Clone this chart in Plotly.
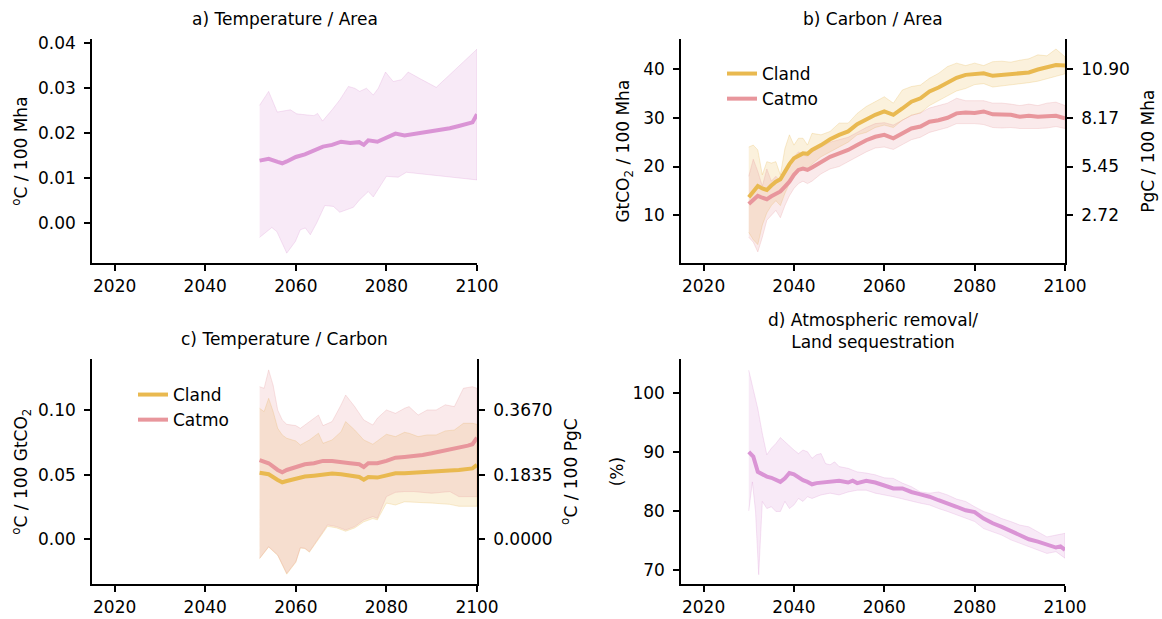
import plotly.graph_objects as go

W, H = 1162, 619

# ---------------- Data ----------------
x_ticks = [2020, 2040, 2060, 2080, 2100]

# a) Temperature / Area
a_years = [2052, 2054, 2056, 2057, 2058, 2060, 2062, 2064, 2066, 2068, 2070, 2072, 2074, 2075,
           2076, 2078, 2080, 2082, 2084, 2086, 2088, 2090, 2092, 2094, 2096, 2098, 2099, 2100]
a_mean = [0.0139, 0.0143, 0.0136, 0.0133, 0.0137, 0.0147, 0.0153, 0.0161, 0.0170, 0.0174, 0.0181,
          0.0178, 0.0180, 0.0174, 0.0184, 0.0181, 0.0191, 0.0199, 0.0195, 0.0198, 0.0201, 0.0204,
          0.0207, 0.0211, 0.0216, 0.0220, 0.0224, 0.0242]
a_up_years = [2052, 2054, 2055.9, 2057.3, 2058.8, 2060.2, 2062.1, 2064, 2064.8, 2065.9, 2068, 2069.7,
              2071.6, 2073, 2074.1, 2075.6, 2077.1, 2078.2, 2079.8, 2081.5, 2083.3, 2084.8, 2087.3,
              2091, 2100]
a_upper = [0.0262, 0.0293, 0.0247, 0.0250, 0.0252, 0.0243, 0.0241, 0.0239, 0.0244, 0.0227, 0.0252,
           0.0274, 0.0304, 0.0300, 0.0293, 0.0300, 0.0285, 0.0300, 0.0336, 0.0315, 0.0319, 0.0336,
           0.0322, 0.0302, 0.0387]
a_lo_years = [2052, 2054.7, 2055.8, 2058, 2059.9, 2061, 2062.1, 2063.2, 2064.6, 2066.4, 2068.3,
              2069.7, 2072.7, 2074.1, 2076, 2077.1, 2080, 2082.6, 2084.4, 2100]
a_lower = [-0.0032, -0.0010, -0.0019, -0.0067, -0.0041, -0.0015, -0.0011, -0.0026, 0.0000, 0.0039,
           0.0037, 0.0024, 0.0035, 0.0052, 0.0070, 0.0058, 0.0104, 0.0102, 0.0113, 0.0096]

# b) Carbon / Area  (GtCO2 / 100 Mha)
b_years = [2030, 2031, 2032, 2033, 2034, 2035, 2036, 2037, 2038, 2039, 2040, 2041, 2042, 2043, 2044,
           2046, 2048, 2050, 2052, 2054, 2056, 2058, 2060, 2062, 2064, 2066, 2068, 2070, 2072, 2074,
           2076, 2078, 2080, 2082, 2084, 2086, 2088, 2090, 2092, 2094, 2096, 2098, 2100]
b_cland = [13.7, 14.9, 16.0, 15.5, 15.2, 16.1, 16.9, 17.4, 19.0, 20.5, 21.7, 22.2, 22.7, 22.6, 23.4,
           24.4, 25.6, 26.5, 27.2, 28.7, 29.7, 30.6, 31.3, 30.6, 31.9, 33.3, 34.0, 35.4, 36.2, 37.1,
           38.2, 38.8, 39.0, 39.1, 38.6, 38.8, 39.0, 39.2, 39.3, 39.9, 40.3, 40.8, 40.7]
b_cland_up = [24.0, 24.4, 23.4, 18.3, 21.0, 20.7, 21.0, 18.3, 23.7, 26.5, 24.4, 25.8, 25.8, 24.4, 26.8,
              26.5, 27.2, 28.9, 28.9, 30.9, 32.3, 33.3, 34.3, 33.0, 35.7, 36.4, 36.7, 38.1, 39.1, 40.5,
              41.2, 40.7, 41.2, 40.7, 41.5, 41.6, 41.4, 41.8, 42.1, 42.9, 42.7, 44.1, 42.5]
b_cland_lo = [6.5, 5.0, 4.0, 8.0, 10.5, 12.0, 13.0, 12.0, 14.5, 16.5, 18.5, 19.5, 19.8, 19.5, 20.5,
              22.0, 23.0, 24.0, 25.0, 26.5, 27.0, 28.0, 28.5, 28.0, 29.5, 30.5, 31.0, 32.5, 33.5, 34.5,
              35.5, 36.0, 36.8, 37.0, 36.3, 36.5, 36.8, 37.0, 37.2, 37.5, 38.0, 38.5, 39.0]
b_catmo = [12.3, 13.1, 14.0, 13.6, 13.3, 13.9, 14.3, 14.9, 15.9, 16.9, 18.3, 19.3, 19.6, 19.3, 19.8,
           21.0, 22.0, 22.7, 23.4, 24.4, 25.4, 26.1, 26.5, 25.8, 26.8, 27.8, 28.2, 29.2, 29.5, 30.0,
           30.9, 31.1, 31.0, 31.3, 30.7, 30.6, 30.6, 30.2, 30.4, 30.2, 30.4, 30.4, 29.9]
b_catmo_up = [18.0, 21.5, 19.0, 16.0, 19.5, 17.0, 18.0, 17.0, 19.0, 21.0, 22.0, 23.0, 22.5, 22.0, 23.0,
              24.0, 25.0, 25.5, 26.0, 27.0, 28.0, 28.8, 29.0, 28.5, 29.5, 30.5, 31.0, 32.0, 32.5, 33.0,
              34.0, 33.5, 33.5, 33.5, 33.0, 33.0, 32.8, 32.5, 32.8, 32.5, 33.0, 33.2, 32.5]
b_catmo_lo = [5.5, 4.5, 2.5, 5.5, 9.0, 10.0, 11.0, 9.5, 12.0, 14.0, 15.5, 16.5, 17.0, 16.5, 17.0,
              18.5, 19.5, 20.0, 21.0, 22.0, 23.0, 23.8, 24.0, 23.5, 24.5, 25.5, 26.0, 27.0, 27.5, 28.0,
              28.8, 28.8, 28.8, 28.6, 28.0, 27.9, 28.0, 27.8, 27.8, 27.8, 27.9, 28.2, 27.8]
b_right_ticks = [2.72, 5.45, 8.17, 10.90]   # PgC / 100 Mha
co2_to_c = 0.2725

# c) Temperature / Carbon  (°C / 100 GtCO2)
c_years = [2052, 2054, 2056, 2057, 2058, 2060, 2062, 2064, 2066, 2068, 2070, 2072, 2074, 2075, 2076,
           2078, 2080, 2082, 2084, 2086, 2088, 2090, 2092, 2094, 2096, 2098, 2099, 2100]
c_catmo = [0.0613, 0.0588, 0.0536, 0.0518, 0.0536, 0.0562, 0.0580, 0.0588, 0.0606, 0.0606, 0.0600,
           0.0588, 0.0580, 0.0559, 0.0588, 0.0588, 0.0606, 0.0631, 0.0637, 0.0642, 0.0652, 0.0665,
           0.0678, 0.0691, 0.0704, 0.0724, 0.0735, 0.0786]
c_cland = [0.0515, 0.0503, 0.0459, 0.0441, 0.0451, 0.0466, 0.0485, 0.0492, 0.0503, 0.0508, 0.0503,
           0.0492, 0.0482, 0.0461, 0.0482, 0.0477, 0.0492, 0.0510, 0.0510, 0.0513, 0.0518, 0.0523,
           0.0528, 0.0531, 0.0536, 0.0544, 0.0548, 0.0575]
c_up_years = [2052, 2053, 2054, 2055, 2056, 2057, 2058, 2060, 2061, 2063, 2065, 2066, 2068, 2070, 2071,
              2073, 2075, 2077, 2078, 2080, 2082, 2084, 2085, 2087, 2089, 2091, 2093, 2095, 2097, 2099,
              2100]
c_catmo_up = [0.118, 0.1168, 0.131, 0.119, 0.100, 0.0923, 0.0889, 0.0879, 0.0858, 0.0910, 0.0961,
              0.0879, 0.0910, 0.104, 0.1116, 0.1026, 0.0923, 0.0884, 0.0936, 0.100, 0.0974, 0.1013,
              0.1026, 0.0961, 0.100, 0.100, 0.104, 0.1026, 0.1168, 0.118, 0.1168]
c_cland_up = [0.1013, 0.0987, 0.109, 0.0987, 0.0858, 0.0807, 0.0781, 0.0760, 0.0729, 0.0768, 0.0820,
              0.0742, 0.0768, 0.0832, 0.091, 0.0845, 0.0768, 0.0735, 0.0760, 0.0812, 0.0794, 0.0827,
              0.0820, 0.0794, 0.0807, 0.0807, 0.0838, 0.0845, 0.0897, 0.0897, 0.0889]
c_lo_years = [2052, 2054, 2056, 2058, 2060, 2061, 2062, 2063, 2065, 2067, 2069, 2071, 2073, 2075, 2077,
              2078, 2080, 2082, 2084, 2086, 2090, 2094, 2096, 2100]
c_catmo_lo = [-0.0147, -0.0057, -0.0121, -0.0263, -0.0173, -0.0064, -0.0070, -0.0095, 0.0008, 0.0111,
              0.0098, 0.0072, 0.0098, 0.0149, 0.0175, 0.0162, 0.0330, 0.0363, 0.0369, 0.0369, 0.0356,
              0.0369, 0.0330, 0.0330]
c_cland_lo = [-0.0150, -0.0060, -0.0125, -0.0270, -0.0178, -0.0068, -0.0072, -0.0100, 0.0000, 0.0100,
              0.0088, 0.0062, 0.0088, 0.0135, 0.0160, 0.0150, 0.0280, 0.0265, 0.0290, 0.0290, 0.0280,
              0.0270, 0.0255, 0.0255]
c_right_ticks = [0.0, 0.1835, 0.3670]   # °C / 100 PgC
c_per_co2 = 3.67

# d) Atmospheric removal / Land sequestration (%)
d_years = [2030, 2031, 2032, 2033, 2034, 2035, 2036, 2037, 2038, 2039, 2040, 2041, 2042, 2043, 2044,
           2045, 2046, 2048, 2050, 2052, 2053, 2054, 2056, 2058, 2060, 2062, 2064, 2066, 2068, 2070,
           2072, 2074, 2076, 2078, 2080, 2082, 2084, 2086, 2088, 2090, 2092, 2094, 2096, 2098, 2099,
           2100]
d_mean = [90.0, 89.2, 86.6, 86.1, 85.8, 85.6, 85.2, 84.9, 85.5, 86.4, 86.2, 85.6, 85.2, 84.9, 84.5,
          84.7, 84.8, 84.9, 85.1, 84.8, 85.1, 84.7, 85.1, 84.8, 84.3, 83.8, 83.8, 83.2, 82.8, 82.4,
          81.8, 81.3, 80.7, 80.1, 79.8, 78.7, 77.9, 77.3, 76.6, 75.9, 75.2, 74.8, 74.3, 73.8, 74.0,
          73.4]
d_up_years = [2030, 2031, 2032, 2033, 2034, 2035, 2036, 2037, 2038, 2039, 2040, 2041, 2042, 2043, 2044,
              2045, 2046, 2047, 2048, 2049, 2050, 2052, 2054, 2056, 2058, 2060, 2062, 2064, 2066, 2068,
              2070, 2072, 2074, 2076, 2078, 2080, 2082, 2084, 2086, 2088, 2090, 2092, 2094, 2096, 2098,
              2100]
d_upper = [103.8, 100.7, 97.3, 93.1, 89.5, 90.6, 91.4, 92.4, 91.7, 90.9, 90.3, 89.7, 90.3, 90.0, 88.9,
           89.5, 89.7, 88.0, 87.8, 88.3, 87.5, 87.2, 86.6, 86.4, 86.1, 85.6, 85.5, 84.7, 84.1, 83.2,
           83.0, 83.2, 82.7, 82.0, 81.6, 80.7, 79.9, 79.4, 78.7, 78.2, 77.6, 77.3, 76.5, 75.6, 75.9,
           76.2]
d_lo_years = [2030, 2030.8, 2031.5, 2032.2, 2033, 2034, 2035, 2036, 2037, 2038, 2039, 2040, 2041, 2042,
              2043, 2044, 2046, 2048, 2050, 2052, 2054, 2056, 2058, 2060, 2062, 2064, 2066, 2068, 2070,
              2072, 2074, 2076, 2078, 2080, 2082, 2084, 2086, 2088, 2090, 2092, 2094, 2096, 2098, 2100]
d_lower = [80.0, 84.9, 79.9, 69.2, 81.6, 80.4, 80.7, 79.9, 79.9, 81.6, 80.4, 81.0, 82.1, 81.6, 82.4,
           82.1, 82.7, 83.0, 82.7, 83.2, 83.5, 83.5, 83.0, 82.7, 82.4, 82.1, 81.7, 81.3, 81.0, 80.4,
           79.9, 79.4, 78.8, 78.2, 77.0, 76.5, 75.9, 75.1, 74.5, 73.9, 73.4, 72.8, 73.1, 72.0]

# ---------------- Style ----------------
PURPLE = (218, 148, 213)
CLAND = (233, 185, 80)
CATMO = (232, 150, 156)
FONT = "DejaVu Sans"
FS = 17


def rgba(c, a=1.0):
    return f"rgba({c[0]},{c[1]},{c[2]},{a})"


def px_x(x):
    return x / W


def px_y(y):
    return 1 - y / H


fig = go.Figure()


def band(xs_lo, lo, xs_hi, hi, color, xa, ya):
    fig.add_trace(go.Scatter(
        x=list(xs_hi) + list(xs_lo)[::-1], y=list(hi) + list(lo)[::-1],
        fill="toself", fillcolor=rgba(color, 0.2), mode="lines",
        line=dict(color=rgba(color, 0.25), width=1),
        showlegend=False, hoverinfo="skip", xaxis=xa, yaxis=ya))


def line(xs, ys, color, xa, ya, name=None, legend=None):
    fig.add_trace(go.Scatter(
        x=xs, y=ys, mode="lines", line=dict(color=rgba(color), width=4),
        name=name, showlegend=name is not None, legend=legend, xaxis=xa, yaxis=ya))


# Panel a
band(a_lo_years, a_lower, a_up_years, a_upper, PURPLE, "x", "y")
line(a_years, a_mean, PURPLE, "x", "y")

# Panel b
band(b_years, b_cland_lo, b_years, b_cland_up, CLAND, "x2", "y2")
band(b_years, b_catmo_lo, b_years, b_catmo_up, CATMO, "x2", "y2")
line(b_years, b_cland, CLAND, "x2", "y2", name="Cland", legend="legend")
line(b_years, b_catmo, CATMO, "x2", "y2", name="Catmo", legend="legend")
fig.add_trace(go.Scatter(x=b_years, y=[v * co2_to_c for v in b_cland], mode="lines",
                         line=dict(width=0), opacity=0, showlegend=False, hoverinfo="skip",
                         xaxis="x2", yaxis="y3"))

# Panel c
band(c_lo_years, c_cland_lo, c_up_years, c_cland_up, CLAND, "x3", "y4")
band(c_lo_years, c_catmo_lo, c_up_years, c_catmo_up, CATMO, "x3", "y4")
line(c_years, c_cland, CLAND, "x3", "y4", name="Cland", legend="legend2")
line(c_years, c_catmo, CATMO, "x3", "y4", name="Catmo", legend="legend2")
fig.add_trace(go.Scatter(x=c_years, y=[v * c_per_co2 for v in c_cland], mode="lines",
                         line=dict(width=0), opacity=0, showlegend=False, hoverinfo="skip",
                         xaxis="x3", yaxis="y5"))

# Panel d
band(d_lo_years, d_lower, d_up_years, d_upper, PURPLE, "x4", "y6")
line(d_years, d_mean, PURPLE, "x4", "y6")

# ---------------- Layout ----------------
tfont = dict(size=FS, color="black", family=FONT)
common = dict(showline=True, linecolor="black", linewidth=1.5, ticks="outside", ticklen=6,
              tickwidth=1.5, tickcolor="black", showgrid=False, zeroline=False,
              tickfont=tfont)
ycommon = dict(common, ticklabelstandoff=5)

left_dom = [px_x(92), px_x(477)]
right_dom = [px_x(681), px_x(1065)]
top_dom = [px_y(263.3), px_y(39)]
bot_dom = [px_y(584), px_y(359.3)]

xcommon = dict(common, range=[2015, 2100], tickvals=x_ticks, ticklabelstandoff=1)

b_range = [0.16, 46.15]
c_range = [-0.0346, 0.1392]


def ytitle(text, standoff):
    return dict(text=text, font=tfont, standoff=standoff)


fig.update_layout(
    width=W, height=H, margin=dict(l=0, r=0, t=0, b=0, autoexpand=False),
    paper_bgcolor="white", plot_bgcolor="white",
    font=dict(family=FONT, size=FS, color="black"),
    xaxis=dict(xcommon, domain=left_dom, anchor="y"),
    yaxis=dict(ycommon, domain=top_dom, anchor="x", range=[-0.00896, 0.04096],
               tickvals=[0.0, 0.01, 0.02, 0.03, 0.04], tickformat=".2f",
               title=ytitle("<sup>o</sup>C / 100 Mha", 6)),
    xaxis2=dict(xcommon, domain=right_dom, anchor="y2"),
    yaxis2=dict(ycommon, domain=top_dom, anchor="x2", range=b_range, tickvals=[10, 20, 30, 40],
                title=ytitle("GtCO<sub>2</sub> / 100 Mha", 9)),
    yaxis3=dict(ycommon, overlaying="y2", anchor="x2", side="right",
                range=[v * co2_to_c for v in b_range], tickvals=b_right_ticks,
                ticktext=[f"{v:.2f}" for v in b_right_ticks],
                title=ytitle("PgC / 100 Mha", 13)),
    xaxis3=dict(xcommon, domain=left_dom, anchor="y4"),
    yaxis4=dict(ycommon, domain=bot_dom, anchor="x3", range=c_range,
                tickvals=[0.0, 0.05, 0.10], tickformat=".2f",
                title=ytitle("<sup>o</sup>C / 100 GtCO<sub>2</sub>", 6)),
    yaxis5=dict(ycommon, overlaying="y4", anchor="x3", side="right",
                range=[v * c_per_co2 for v in c_range], tickvals=c_right_ticks,
                tickformat=".4f", title=ytitle("<sup>o</sup>C / 100 PgC", 13)),
    xaxis4=dict(xcommon, domain=right_dom, anchor="y6"),
    yaxis6=dict(ycommon, domain=bot_dom, anchor="x4", range=[67.63, 105.65],
                tickvals=[70, 80, 90, 100], title=ytitle("(%)", 4)),
    legend=dict(x=px_x(722), y=px_y(56), xanchor="left", yanchor="top",
                bgcolor="rgba(0,0,0,0)", font=tfont, tracegroupgap=0),
    legend2=dict(x=px_x(133), y=px_y(377), xanchor="left", yanchor="top",
                 bgcolor="rgba(0,0,0,0)", font=tfont, tracegroupgap=0),
    showlegend=True,
)

annotations = [
    dict(text="a) Temperature / Area", x=px_x(284.5), y=px_y(19)),
    dict(text="b) Carbon / Area", x=px_x(873), y=px_y(19)),
    dict(text="c) Temperature / Carbon", x=px_x(284.5), y=px_y(339)),
    dict(text="d) Atmospheric removal/<br>Land sequestration", x=px_x(873), y=px_y(331)),
]
for a in annotations:
    a.update(xref="paper", yref="paper", showarrow=False, xanchor="center", yanchor="middle",
             font=tfont)
fig.update_layout(annotations=annotations)

fig.write_html("out.html")
